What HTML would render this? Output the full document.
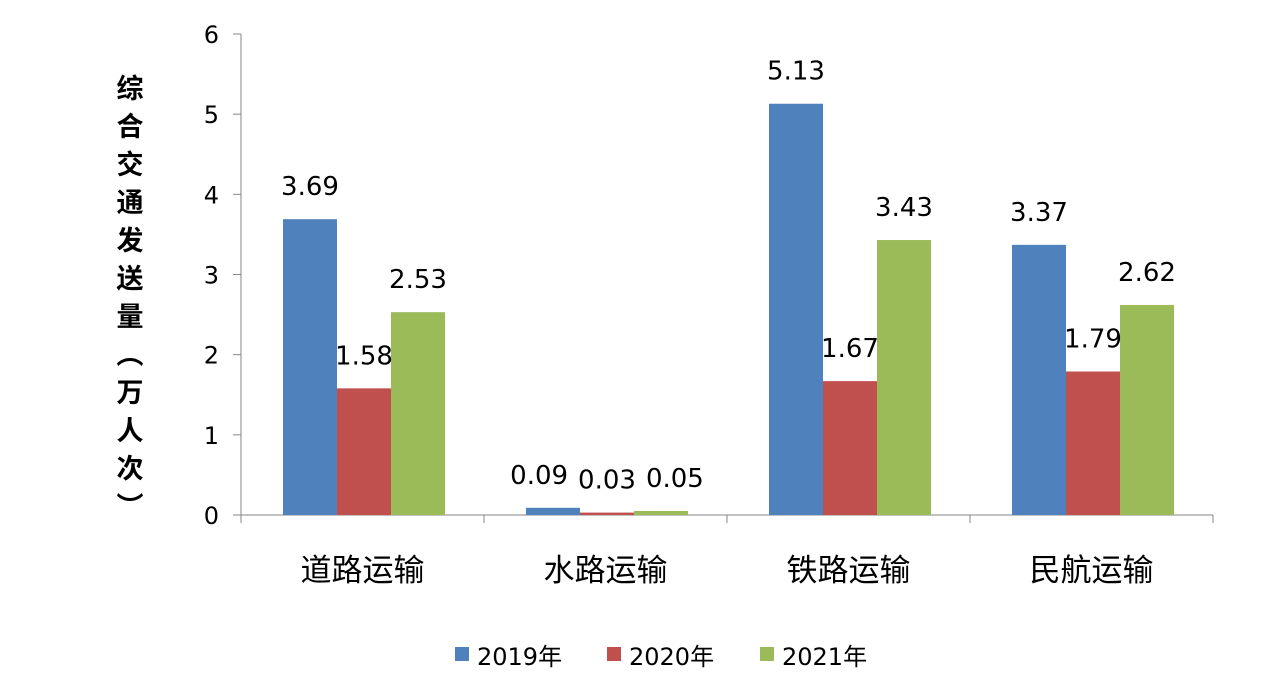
<!DOCTYPE html>
<html><head><meta charset="utf-8"><style>
body{margin:0;background:#fff;}
svg{display:block;font-family:"Liberation Sans","Noto Sans CJK SC",sans-serif;}
.num{font-family:"DejaVu Sans","Noto Sans CJK SC",sans-serif;}
</style></head><body>
<svg id="chart" width="1269" height="691" viewBox="0 0 1269 691">
<g id="axes"></g><g id="bars"></g><g id="labels"></g>
<text x="130" y="74" font-size="27" font-weight="bold" fill="#000" style="writing-mode:vertical-rl;letter-spacing:11px;font-family:'Noto Sans CJK SC',sans-serif">综合交通发送量（万人次）</text>
</svg>
<script>
const categories=["道路运输","水路运输","铁路运输","民航运输"];
const series=["2019年","2020年","2021年"];
const v2019=[3.69,0.09,5.13,3.37];
const v2020=[1.58,0.03,1.67,1.79];
const v2021=[2.53,0.05,3.43,2.62];
const yTicks=[0,1,2,3,4,5,6];
const values=[v2019,v2020,v2021];
const colors=["#4F81BD","#C0504D","#9BBB59"];
const NS="http://www.w3.org/2000/svg";
const x0=241,x1=1213,y0=515,yTop=34,yMax=6;
const cw=(x1-x0)/categories.length,bw=54,off=42;
const Y=v=>y0-(v/yMax)*(y0-yTop);
function mk(t,a,p){const e=document.createElementNS(NS,t);for(const k in a)e.setAttribute(k,a[k]);p.appendChild(e);return e;}
const axes=document.getElementById('axes'),bars=document.getElementById('bars'),labels=document.getElementById('labels');
let ya=mk('line',{x1:x0,y1:yTop,x2:x0,y2:y0,stroke:'#868686','stroke-width':1},axes);


let xa=mk('line',{x1:x0,y1:y0,x2:x1,y2:y0,stroke:'#868686','stroke-width':1},axes);


yTicks.forEach(t=>{
 mk('line',{x1:x0-8,y1:Y(t),x2:x0,y2:Y(t),stroke:'#868686'},axes);
 const tx=mk('text',{x:x0-22,y:Y(t)+9,'font-size':24,'text-anchor':'end',fill:'#000','class':'num'},axes);
 tx.textContent=t;
 
 
});
for(let i=0;i<=categories.length;i++){mk('line',{x1:x0+i*cw,y1:y0,x2:x0+i*cw,y2:y0+8,stroke:'#868686'},axes);}
categories.forEach((c,i)=>{
 const tx=mk('text',{x:x0+i*cw+cw/2,y:581,'font-size':31,'text-anchor':'middle',fill:'#000'},labels);
 tx.textContent=c;
 
 
 const row=[];
 values.forEach((vs,s)=>{
  const bx=x0+i*cw+off+s*bw;
  const r=mk('rect',{x:bx,y:Y(vs[i]),width:bw,height:y0-Y(vs[i]),fill:colors[s]},bars);
  
  
  const lt=mk('text',{x:bx+bw/2,y:Y(vs[i])-24,'font-size':26,'text-anchor':'middle',fill:'#000','class':'num'},labels);
  lt.textContent=vs[i].toFixed(2);
  
  
  row.push({el:lt,cx:bx+bw/2,y:Y(vs[i])-24});
 });
 // avoid overlap: spread labels if they collide
 const ws=row.map(o=>o.el.getComputedTextLength());
 let overlap=false;
 for(let k=1;k<row.length;k++){
  if(row[k].cx-ws[k]/2 < row[k-1].cx+ws[k-1]/2+6 && Math.abs(row[k].y-row[k-1].y)<26) overlap=true;
 }
 if(overlap){
  const gap=10;
  const total=ws.reduce((a,b)=>a+b,0)+gap*(row.length-1);
  const center=x0+i*cw+off+bw*row.length/2;
  let xs=center-total/2;
  row.forEach((o,k)=>{o.el.setAttribute('x',xs+ws[k]/2);xs+=ws[k]+gap;});
 }
});
const lx=[455,607,760];
series.forEach((s,k)=>{
 const g=mk('g',{},labels);
 
 
 mk('rect',{x:lx[k],y:647,width:14,height:14,fill:colors[k]},g);
 const t=mk('text',{x:lx[k]+22,y:665,'font-size':24,fill:'#000','class':'num'},g);
 t.textContent=s;
});
</script>
</body></html>
